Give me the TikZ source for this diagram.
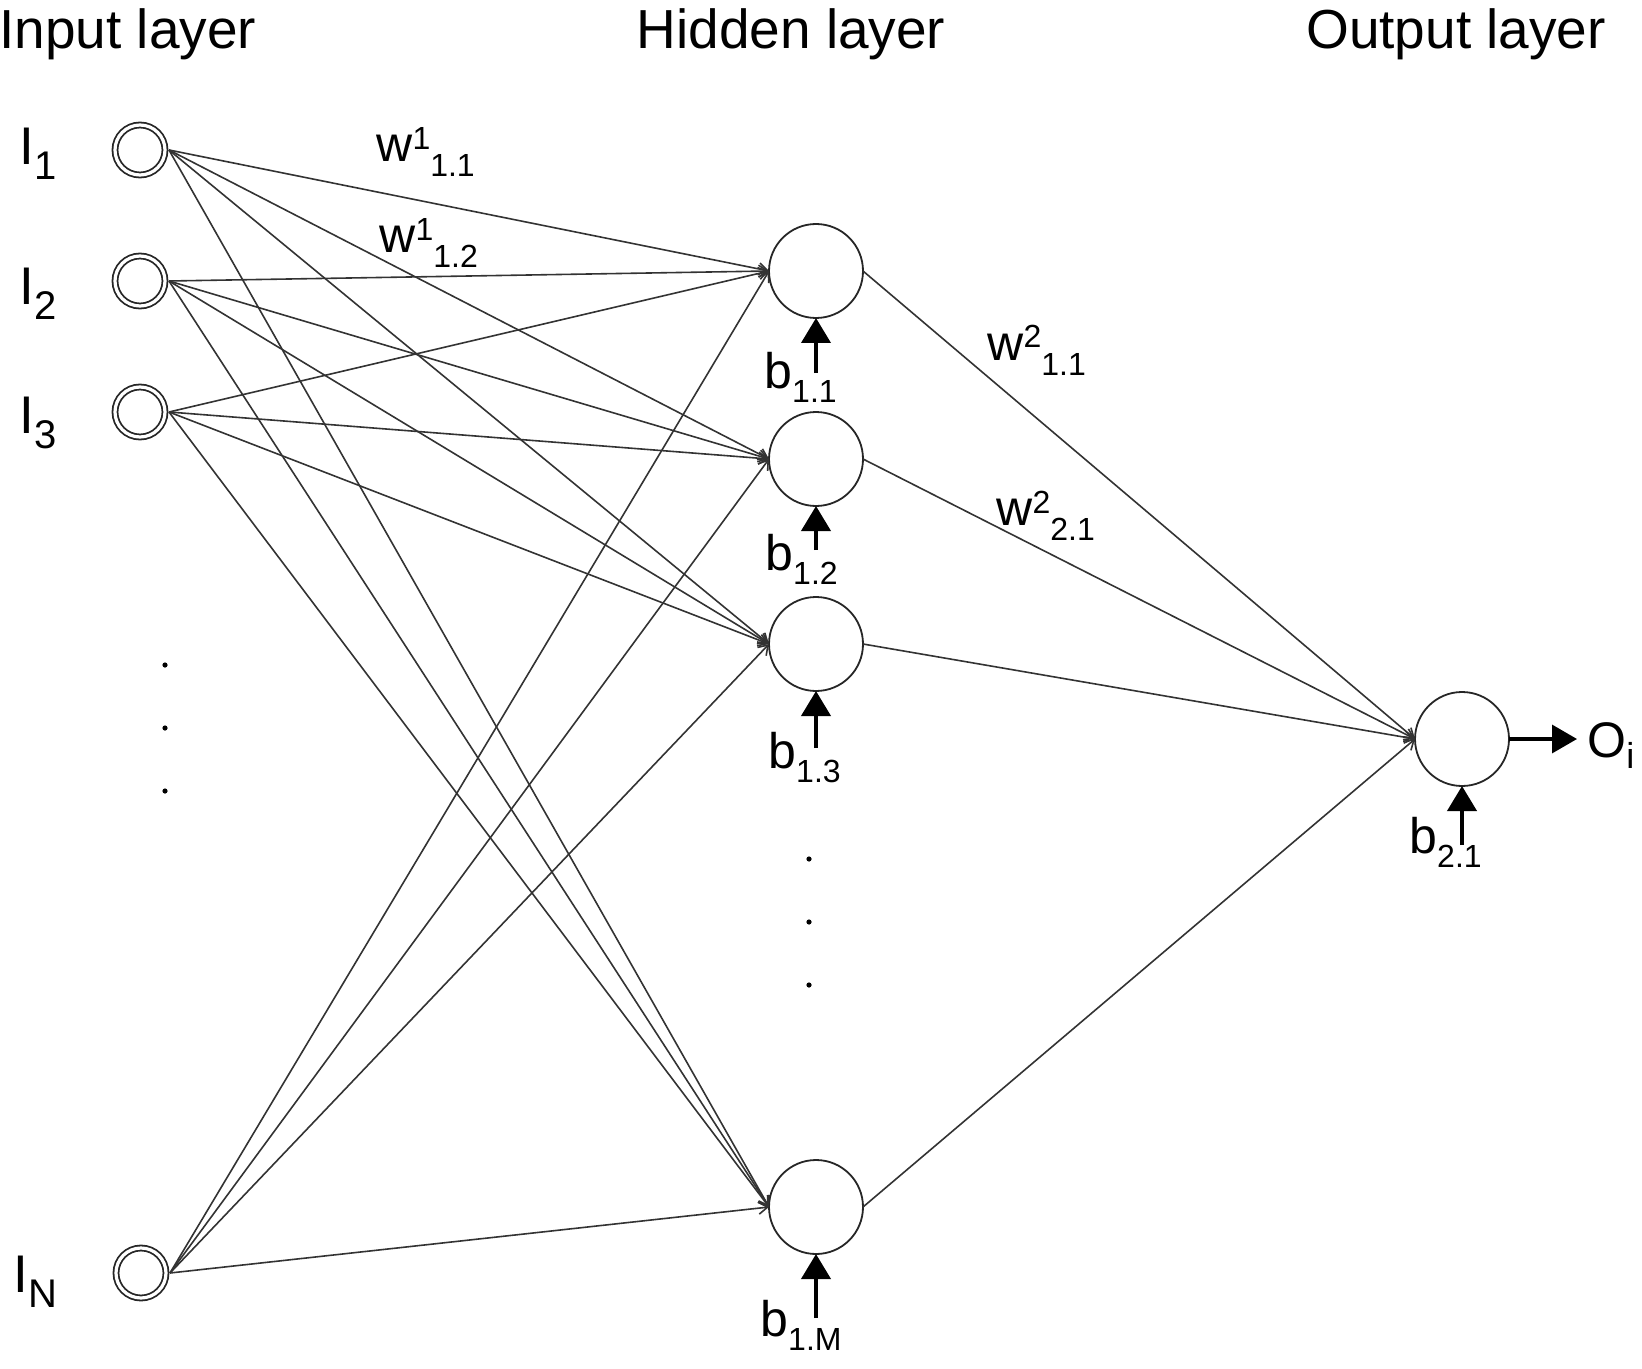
\documentclass[tikz,border=0pt]{standalone}
\usepackage{fontspec}
\setmainfont{Liberation Sans}
\usetikzlibrary{arrows.meta}
\newcommand{\mainf}{\fontsize{25pt}{30pt}\selectfont}
\newcommand{\subf}{\fontsize{16pt}{19pt}\selectfont}
\newcommand{\ttlf}{\fontsize{27.5pt}{33pt}\selectfont}
\newcommand{\wlab}[3]{{\mainf #1}\raisebox{6pt}{\subf #2}\raisebox{-7.5pt}{\subf #3}}
\newcommand{\blab}[2]{{\mainf #1}\raisebox{-7pt}{\subf #2}}
\newcommand{\ilab}[2]{{\fontsize{26.5pt}{30pt}\selectfont #1}\raisebox{-7.5pt}{\fontsize{20pt}{24pt}\selectfont #2}}
\begin{document}
\begin{tikzpicture}[x=0.5pt,y=-0.5pt,
  inp/.style={circle, draw=black!85, line width=0.9pt, double=white, double distance=1.6pt,
              minimum size=25pt, inner sep=0pt, outer sep=2pt},
  hid/.style={circle, draw=black!85, line width=0.9pt, minimum size=47pt, inner sep=0pt, outer sep=0pt},
  conn/.style={draw=black!80, line width=0.8pt, -{Straight Barb[length=4.5pt,width=6pt]}},
  bias/.style={line width=2pt, -{Triangle[length=12.5pt,width=14.5pt]}},
  outarr/.style={line width=1.7pt, -{Triangle[length=12.5pt,width=14pt]}},
  lbl/.style={inner sep=0pt, anchor=base west},
  ttl/.style={inner sep=0pt, anchor=base, font=\ttlf}]
\useasboundingbox (0,0) rectangle (1642,1369);

% titles
\node[lbl, font=\ttlf] (tin) at (-1,49) {Input layer};
\node[ttl] (thid) at (791,49) {Hidden layer};
\node[ttl] (tout) at (1456,49) {Output layer};

% input nodes
\node[inp] (I1) at (140,150) {};
\node[inp] (I2) at (140,281) {};
\node[inp] (I3) at (140,412) {};
\node[inp] (IN) at (141,1273) {};

\node[lbl] (lI1) at (19,165) {\ilab{I}{1}};
\node[lbl] (lI2) at (19,305) {\ilab{I}{2}};
\node[lbl] (lI3) at (19,433) {\ilab{I}{3}};
\node[lbl] (lIN) at (13,1292) {\ilab{I}{N}};

% hidden nodes
\node[hid] (H1) at (816,271) {};
\node[hid] (H2) at (816,459) {};
\node[hid] (H3) at (816,644) {};
\node[hid] (HM) at (816,1207) {};

% output node
\node[hid] (O) at (1462,739) {};

% dots
\fill (165,665) circle (1.3pt);
\fill (165,728) circle (1.3pt);
\fill (165,791) circle (1.3pt);
\fill (809,859) circle (1.3pt);
\fill (809,922) circle (1.3pt);
\fill (809,985) circle (1.3pt);

% connections
\foreach \s in {I1,I2,I3,IN}
  \foreach \t in {H1,H2,H3,HM}
    \draw[conn] (\s.east) -- (\t.west);
\foreach \t in {H1,H2,H3,HM}
  \draw[conn] (\t.east) -- (O.west);

% weight labels
\node[lbl] (w111) at (376,162) {\wlab{w}{1}{1.1}};
\node[lbl] (w112) at (379,253) {\wlab{w}{1}{1.2}};
\node[lbl] (w211) at (987,360) {\wlab{w}{2}{1.1}};
\node[lbl] (w221) at (996,525) {\wlab{w}{2}{2.1}};

% biases
\coordinate (bH1) at (816,373);
\coordinate (bH2) at (816,550);
\coordinate (bH3) at (816,748);
\coordinate (bHM) at (816,1318);
\coordinate (bO) at (1462,845);
\draw[bias] (bH1) -- (H1.south);
\draw[bias] (bH2) -- (H2.south);
\draw[bias] (bH3) -- (H3.south);
\draw[bias] (bHM) -- (HM.south);
\draw[bias] (bO) -- (O.south);

\node[lbl] (lb11) at (764,388) {\blab{b}{1.1}};
\node[lbl] (lb12) at (765,570) {\blab{b}{1.2}};
\node[lbl] (lb13) at (768,768) {\blab{b}{1.3}};
\node[lbl] (lb1M) at (760,1336) {\blab{b}{1.M}};
\node[lbl] (lb21) at (1409,853) {\blab{b}{2.1}};

% output
\coordinate (oend) at (1577,739);
\draw[outarr] (O.east) -- (oend);
\node[lbl] (lO) at (1587,757) {{\mainf O}\raisebox{-5.5pt}{\fontsize{18pt}{20pt}\selectfont i}};
\end{tikzpicture}
\end{document}
